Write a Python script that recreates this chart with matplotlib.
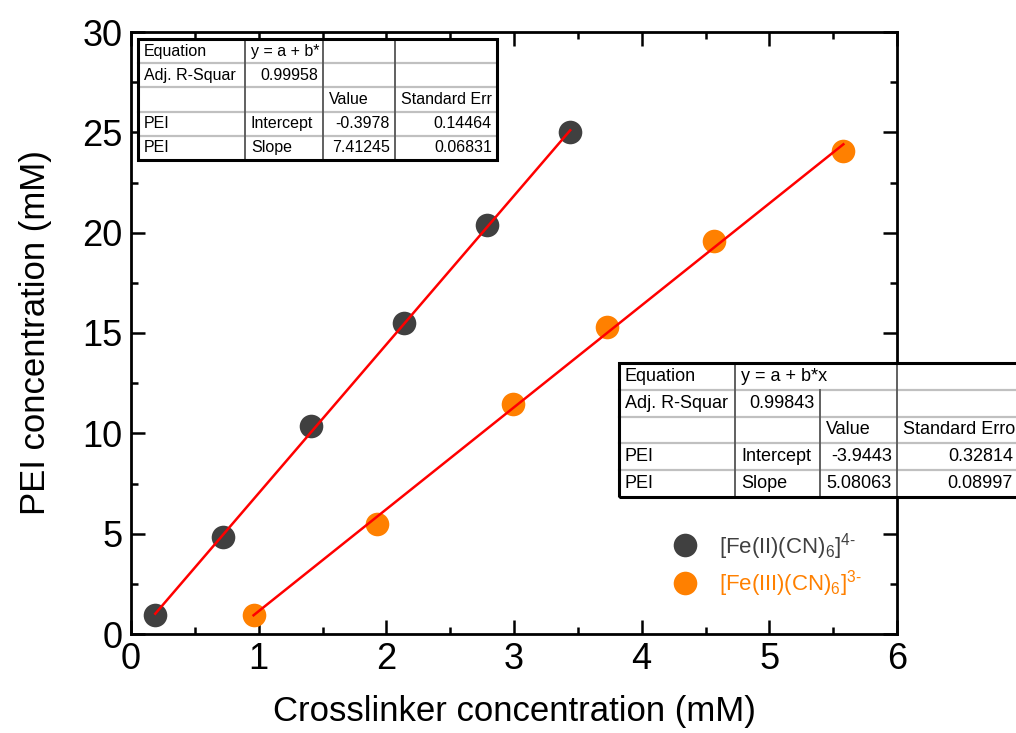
import numpy as np
import matplotlib.pyplot as plt
from matplotlib.lines import Line2D
from matplotlib.patches import Rectangle
from matplotlib.ticker import MultipleLocator

plt.rcParams['font.family'] = ['Liberation Sans', 'DejaVu Sans']
plt.rcParams['mathtext.fontset'] = 'custom'
plt.rcParams['mathtext.rm'] = 'Liberation Sans'
plt.rcParams['mathtext.it'] = 'Liberation Sans:italic'
plt.rcParams['mathtext.default'] = 'regular'

# data
fe2_x = [0.19, 0.72, 1.41, 2.14, 2.79, 3.44]
fe2_y = [0.95, 4.83, 10.36, 15.5, 20.4, 25.0]
fe3_x = [0.96, 1.93, 2.99, 3.73, 4.57, 5.58]
fe3_y = [0.95, 5.48, 11.46, 15.3, 19.6, 24.05]

# linear fits (y = a + b*x) as printed in the tables
fe2_fit = (-0.3978, 7.41245)
fe3_fit = (-3.9443, 5.08063)

fe2_label = r'[Fe(II)(CN)$_6$]$^{4\text{-}}$'
fe3_label = r'[Fe(III)(CN)$_6$]$^{3\text{-}}$'

table1 = [
    ['Equation', 'y = a + b*', '', ''],
    ['Adj. R-Squar', '0.99958', '', ''],
    ['', '', 'Value', 'Standard Err'],
    ['PEI', 'Intercept', '-0.3978', '0.14464'],
    ['PEI', 'Slope', '7.41245', '0.06831'],
]
table2 = [
    ['Equation', 'y = a + b*x', '', ''],
    ['Adj. R-Squar', '0.99843', '', ''],
    ['', '', 'Value', 'Standard Erro'],
    ['PEI', 'Intercept', '-3.9443', '0.32814'],
    ['PEI', 'Slope', '5.08063', '0.08997'],
]

DARK = '#404040'
ORANGE = '#FF8000'
W, H = 1016, 733


def fx(px):
    return px / W


def fy(py):
    return 1 - py / H


def is_num(s):
    try:
        float(s)
        return True
    except ValueError:
        return False


def draw_table(fig, cols, top, row_h, rows, fs, merged=()):
    """Origin-style fit table, positioned in figure pixels."""
    n = len(rows)
    bottom = top + n * row_h
    fig.add_artist(Rectangle((fx(cols[0]), fy(bottom)), fx(cols[-1] - cols[0]),
                             (bottom - top) / H, transform=fig.transFigure,
                             facecolor='white', edgecolor='none', zorder=5))
    # inner horizontal lines
    for i in range(1, n):
        y = fy(top + i * row_h)
        fig.add_artist(Line2D([fx(cols[0]), fx(cols[-1])], [y, y],
                              transform=fig.transFigure, color='#c0c0c0',
                              lw=1.6, zorder=6))
    # inner vertical lines
    for j in range(1, len(cols) - 1):
        for i in range(n):
            if (i, j) in merged:
                continue
            fig.add_artist(Line2D([fx(cols[j]), fx(cols[j])],
                                  [fy(top + i * row_h), fy(top + (i + 1) * row_h)],
                                  transform=fig.transFigure, color='#606060',
                                  lw=1.4, zorder=6))
    # outer border
    fig.add_artist(Rectangle((fx(cols[0]), fy(bottom)), fx(cols[-1] - cols[0]),
                             (bottom - top) / H, transform=fig.transFigure,
                             facecolor='none', edgecolor='black', lw=2.2, zorder=7))
    for i, row in enumerate(rows):
        yc = fy(top + (i + 0.5) * row_h)
        for j, s in enumerate(row):
            if not s:
                continue
            if is_num(s):
                fig.text(fx(cols[j + 1] - 5), yc, s, ha='right', va='center',
                         fontsize=fs, zorder=8)
            else:
                fig.text(fx(cols[j] + 6), yc, s, ha='left', va='center',
                         fontsize=fs, zorder=8)


fig = plt.figure(figsize=(W / 100, H / 100), dpi=100)
ax = fig.add_axes([fx(131), fy(634), (897 - 131) / W, (634 - 32) / H])

ax.plot(fe2_x, fe2_y, 'o', ms=17, color=DARK, mec='none', label=fe2_label, zorder=3)
ax.plot(fe3_x, fe3_y, 'o', ms=17, color=ORANGE, mec='none', label=fe3_label, zorder=3)

for xs, (a, b) in [(fe2_x, fe2_fit), (fe3_x, fe3_fit)]:
    xl = np.array([min(xs), max(xs)])
    ax.plot(xl, a + b * xl, color='red', lw=1.8, zorder=4)

ax.set_xlim(0, 6)
ax.set_ylim(0, 30)
ax.xaxis.set_major_locator(MultipleLocator(1))
ax.xaxis.set_minor_locator(MultipleLocator(0.5))
ax.yaxis.set_major_locator(MultipleLocator(5))
ax.yaxis.set_minor_locator(MultipleLocator(2.5))
ax.tick_params(which='both', direction='in', top=True, right=True, width=1.8,
               labelsize=26, pad=6)
ax.tick_params(which='major', length=10)
ax.tick_params(which='minor', length=5)
for sp in ax.spines.values():
    sp.set_linewidth(2)

ax.set_xlabel('Crosslinker concentration (mM)', fontsize=25, labelpad=13)
ax.set_ylabel('PEI concentration (mM)', fontsize=25, labelpad=22)

leg = ax.legend(loc='center left', bbox_to_anchor=(fx(663), fy(565)),
                bbox_transform=fig.transFigure, frameon=False, fontsize=16,
                handlelength=1.0, handletextpad=1.0, labelspacing=0.3,
                borderpad=0, labelcolor=[DARK, ORANGE])

draw_table(fig, [138, 245, 323, 395, 497], 39, 24.2, table1, 11.5)
draw_table(fig, [619, 735, 820, 897, 1018], 363, 26.8, table2, 13, merged={(0, 2)})

fig.savefig('out.png', dpi=100)
